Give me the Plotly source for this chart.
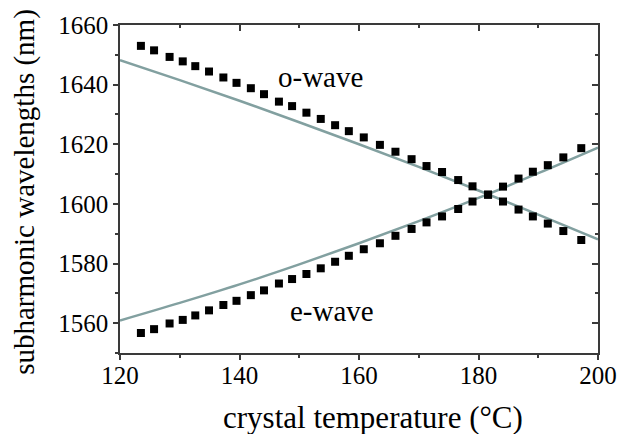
import plotly.graph_objects as go

# measured data (squares)
o_temp = [123.5, 125.7, 128.3, 130.5, 132.6, 134.9, 137.3, 139.5, 141.9, 144.1,
          146.6, 148.8, 151.2, 153.6, 156.0, 158.3, 160.8, 163.5, 166.1, 168.8,
          171.3, 173.9, 176.6, 179.0, 181.6, 184.1, 186.7, 189.1, 191.6, 194.2, 197.2]
o_wave = [1653.0, 1651.5, 1649.3, 1647.8, 1646.2, 1644.4, 1642.4, 1640.6, 1638.8, 1636.8,
          1634.3, 1632.8, 1630.6, 1628.5, 1626.4, 1624.4, 1622.3, 1619.8, 1617.5, 1615.0,
          1612.7, 1610.7, 1608.0, 1605.9, 1603.1, 1600.8, 1598.1, 1595.8, 1593.4, 1590.9, 1587.9]
e_temp = o_temp
e_wave = [1556.7, 1558.0, 1559.9, 1561.1, 1562.6, 1564.3, 1566.1, 1567.5, 1569.4, 1571.0,
          1573.3, 1574.8, 1576.5, 1578.4, 1580.6, 1582.6, 1584.8, 1586.8, 1589.3, 1591.6,
          1593.8, 1595.8, 1598.3, 1600.8, 1603.1, 1605.8, 1608.5, 1610.8, 1613.0, 1615.6, 1618.7]

# theoretical curves
fit_temp = [120, 130, 140, 150, 160, 170, 180, 190, 200]
o_fit = [1648.2, 1641.5, 1634.6, 1627.4, 1620.0, 1612.4, 1604.5, 1596.4, 1588.1]
e_fit = [1560.9, 1566.8, 1573.0, 1579.7, 1586.8, 1594.2, 1602.0, 1610.3, 1618.9]

x_range = [120, 200]
y_range = [1550, 1660]
x_title = "crystal temperature (°C)"
y_title = "subharmonic wavelengths (nm)"

LINE = "#82a0a0"
AX = "#3a3a3a"
FONT = "Liberation Serif"

fig = go.Figure()
fig.add_trace(go.Scatter(x=fit_temp, y=o_fit, mode="lines", line=dict(color=LINE, width=2.5, shape="spline")))
fig.add_trace(go.Scatter(x=fit_temp, y=e_fit, mode="lines", line=dict(color=LINE, width=2.5, shape="spline")))
fig.add_trace(go.Scatter(x=o_temp, y=o_wave, mode="markers", marker=dict(symbol="square", size=8, color="black")))
fig.add_trace(go.Scatter(x=e_temp, y=e_wave, mode="markers", marker=dict(symbol="square", size=8, color="black")))
# invisible trace for mirrored axes
fig.add_trace(go.Scatter(x=x_range, y=y_range, xaxis="x2", yaxis="y2", mode="markers",
                         marker=dict(opacity=0), hoverinfo="skip"))

fig.add_annotation(x=153.6, y=1642.5, text="o-wave", showarrow=False, font=dict(family=FONT, size=29, color="black"))
fig.add_annotation(x=155.4, y=1564.2, text="e-wave", showarrow=False, font=dict(family=FONT, size=29, color="black"))
# axis titles
fig.add_annotation(xref="paper", yref="paper", x=0.529, y=-0.196, xanchor="center", yanchor="middle",
                   text=x_title, showarrow=False, font=dict(family=FONT, size=31, color="black"))
fig.add_annotation(xref="paper", yref="paper", x=-0.200, y=0.4926, xanchor="center", yanchor="middle",
                   text=y_title, textangle=-90, showarrow=False, font=dict(family=FONT, size=29, color="black"))

fig.update_layout(
    width=629, height=434,
    margin=dict(l=120, r=25, t=16, b=81),
    plot_bgcolor="white", paper_bgcolor="white",
    showlegend=False,
    font=dict(family=FONT, size=25, color="black"),
    xaxis=dict(range=x_range, dtick=20, tick0=120, showgrid=False, zeroline=False,
               showline=True, linecolor=AX, linewidth=1.5, ticks="outside", ticklen=5,
               tickwidth=1.5, tickcolor=AX, ticklabelstandoff=-6,
               minor=dict(ticks="outside", dtick=10, ticklen=3, tickcolor=AX, tickwidth=1.5)),
    yaxis=dict(range=y_range, dtick=20, tick0=1560, showgrid=False, zeroline=False,
               showline=True, linecolor=AX, linewidth=1.5, ticks="outside", ticklen=5,
               tickwidth=1.5, tickcolor=AX,
               minor=dict(ticks="outside", dtick=10, ticklen=3, tickcolor=AX, tickwidth=1.5)),
    xaxis2=dict(range=x_range, overlaying="x", side="top", dtick=20, tick0=120, showgrid=False,
                zeroline=False, showline=True, linecolor=AX, linewidth=1.5, ticks="inside",
                ticklen=6, tickwidth=1.5, tickcolor=AX, showticklabels=False,
                minor=dict(ticks="inside", dtick=10, ticklen=3, tickcolor=AX, tickwidth=1.5)),
    yaxis2=dict(range=y_range, overlaying="y", side="right", dtick=20, tick0=1560, showgrid=False,
                zeroline=False, showline=True, linecolor=AX, linewidth=1.5, ticks="inside",
                ticklen=6, tickwidth=1.5, tickcolor=AX, showticklabels=False,
                minor=dict(ticks="inside", dtick=10, ticklen=3, tickcolor=AX, tickwidth=1.5)),
)

fig.write_html("out.html")
